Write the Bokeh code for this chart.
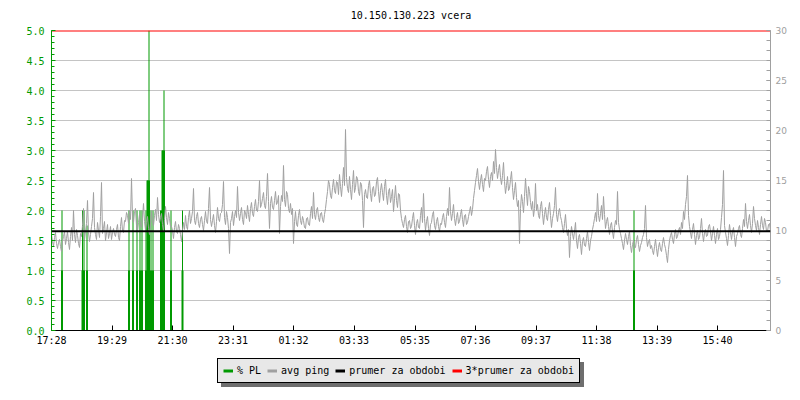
from bokeh.plotting import figure
from bokeh.layouts import column
from bokeh.models import (Range1d, LinearAxis, FixedTicker, Span, Legend, LegendItem,
                          PrintfTickFormatter, ColumnDataSource)
from bokeh.embed import file_html
from bokeh.resources import INLINE

# ---------------- data ----------------
title_text = "10.150.130.223 vcera"

# x tick positions (minutes since 17:28) and labels
x_tick_minutes = [0, 121, 242, 363, 484, 605, 727, 848, 969, 1090, 1211, 1332]
x_tick_labels = ["17:28", "19:29", "21:30", "23:31", "01:32", "03:33",
                 "05:35", "07:36", "09:37", "11:38", "13:39", "15:40"]

# packet loss (%): sample minute, spike top, main bar height
pl_time = [21, 62, 65, 71, 155, 163, 171, 177, 181, 189, 192, 195, 199, 203, 219, 222, 225, 239, 262, 1165]
pl_peak = [2.0, 2.0, 2.0, 1.75, 2.0, 2.0, 2.0, 2.0, 2.0, 2.0, 2.5, 5.0, 2.0, 2.0, 2.0, 3.0, 4.0, 2.0, 2.0, 2.0]
pl_value = [1.0, 1.0, 1.0, 1.0, 1.0, 1.0, 1.0, 1.0, 1.0, 1.0, 2.5, 2.5, 1.0, 1.0, 2.0, 3.0, 3.0, 1.0, 1.0, 1.0]

# average ping (ms), one sample every 2 minutes
ping_step_min = 2
ping_ms = [
    9.6, 8.9, 8.4, 9.3, 9.8, 8.7, 8.2, 8.8, 9.1, 8.4, 7.9, 8.9, 9.4, 9.9, 8.6, 9.2, 9.9, 8.8, 8.1, 9.4, 10.3, 9.0, 12.0, 9.6, 8.8, 10.1, 9.5, 8.7, 8.3, 9.7,
    9.4, 10.5, 12.2, 9.1, 9.9, 10.7, 13.0, 9.8, 8.9, 9.6, 10.4, 11.2, 13.8, 10.3, 9.6, 9.1, 10.8, 10.0, 9.3, 11.4, 14.8, 9.7, 10.2, 10.9, 9.0, 9.8, 10.6, 9.2, 9.7, 10.4,
    9.1, 9.8, 10.2, 9.6, 9.4, 10.1, 10.6, 9.3, 9.0, 10.4, 11.3, 10.0, 9.8, 11.0, 10.9, 11.8, 11.5, 10.7, 12.0, 11.1, 15.2, 11.4, 10.8, 11.9, 12.2, 10.5, 9.9, 10.8, 11.6, 10.6,
    10.3, 11.2, 12.7, 10.9, 10.1, 10.8, 11.4, 10.2, 9.6, 10.7, 11.9, 11.0, 10.5, 11.5, 12.1, 11.0, 13.3, 11.6, 10.8, 11.3, 11.7, 10.6, 9.9, 11.1, 12.4, 11.3, 10.6, 11.8, 11.2, 10.4,
    10.4, 10.0, 9.2, 10.3, 10.9, 9.9, 9.7, 10.6, 10.2, 9.6, 8.9, 10.0, 10.8, 10.1, 11.5, 10.4, 10.1, 11.3, 12.0, 10.7, 11.2, 11.9, 14.2, 11.0, 10.6, 11.4, 11.8, 10.7, 10.3, 11.1,
    11.4, 10.6, 10.0, 11.0, 11.9, 10.9, 10.7, 12.2, 14.3, 11.1, 10.4, 11.0, 11.6, 10.5, 9.8, 10.9, 12.3, 11.2, 10.9, 11.7, 11.8, 12.6, 14.9, 11.3, 10.6, 11.9, 11.3, 10.2, 7.7, 10.8,
    11.2, 11.9, 10.5, 11.4, 12.0, 11.3, 14.4, 11.8, 11.0, 11.7, 12.3, 11.1, 10.6, 12.0, 11.8, 11.2, 12.5, 11.6, 10.9, 12.2, 12.8, 11.7, 11.4, 12.4, 13.1, 12.0, 11.9, 12.9, 15.0, 12.3,
    12.6, 13.2, 13.8, 12.5, 12.2, 13.4, 15.7, 12.9, 10.2, 12.7, 13.4, 12.3, 12.1, 13.0, 13.9, 12.6, 12.8, 13.5, 9.7, 12.4, 13.5, 12.9, 16.5, 13.1, 12.4, 13.9, 13.6, 12.2, 11.8, 12.7,
    11.6, 12.2, 8.7, 10.9, 11.9, 10.6, 10.4, 11.5, 12.1, 11.0, 10.6, 11.4, 11.0, 10.3, 10.2, 11.2, 11.3, 10.6, 10.5, 11.7, 12.4, 11.2, 13.8, 11.6, 11.1, 12.0, 12.3, 11.3, 10.9, 11.7,
    11.8, 11.1, 10.8, 11.6, 12.2, 13.1, 13.9, 15.0, 14.6, 13.5, 13.2, 14.3, 15.1, 14.0, 13.7, 14.9, 14.8, 13.6, 15.6, 14.4, 13.4, 14.7, 16.3, 14.5, 20.1, 15.3, 14.2, 13.8, 15.4, 14.1,
    13.1, 14.6, 16.0, 13.8, 14.3, 15.4, 15.2, 13.9, 13.5, 14.8, 14.6, 13.0, 10.3, 13.6, 14.1, 13.3, 13.2, 14.5, 15.0, 13.7, 12.9, 14.2, 14.4, 13.4, 13.6, 14.9, 15.3, 13.9, 12.8, 14.0,
    14.7, 13.8, 13.0, 14.4, 15.1, 13.5, 12.6, 13.9, 14.2, 12.8, 13.4, 14.1, 11.9, 13.2, 14.5, 13.0, 12.3, 13.7, 13.6, 12.0, 11.2, 10.7, 10.3, 11.1, 11.5, 10.4, 9.8, 10.9, 11.0, 10.2,
    10.4, 11.2, 11.8, 10.5, 9.6, 10.7, 11.1, 10.3, 10.2, 11.5, 12.3, 10.8, 13.7, 11.2, 10.0, 10.9, 11.4, 10.2, 9.5, 10.6, 10.8, 11.6, 11.9, 10.5, 10.1, 10.9, 11.3, 10.4, 9.9, 10.7,
    10.6, 11.3, 11.7, 10.8, 10.3, 11.4, 12.2, 11.5, 14.3, 11.9, 11.0, 11.7, 12.6, 11.2, 10.5, 11.3, 11.8, 10.7, 10.9, 11.6, 12.1, 11.1, 10.4, 11.5, 11.6, 10.6, 10.8, 11.4, 11.9, 12.4,
    11.5, 12.1, 13.2, 14.0, 14.8, 15.5, 16.2, 14.9, 14.1, 15.0, 15.6, 14.6, 13.9, 15.2, 15.0, 15.9, 16.4, 15.1, 14.3, 15.4, 15.8, 15.0, 16.9, 15.7, 18.1, 16.3, 15.2, 16.0, 16.6, 15.3,
    14.6, 15.5, 16.8, 14.9, 13.7, 14.5, 15.4, 14.0, 14.2, 15.1, 15.9, 14.3, 13.1, 14.0, 14.8, 13.3, 12.4, 13.0, 8.7, 12.2, 13.6, 12.9, 11.8, 13.4, 15.2, 13.7, 12.5, 14.4, 13.9, 12.8,
    12.1, 12.9, 11.4, 12.2, 14.7, 12.0, 12.6, 11.5, 11.2, 12.4, 12.9, 11.7, 10.6, 11.6, 12.3, 11.3, 11.0, 12.1, 12.8, 11.5, 10.3, 11.2, 11.7, 12.5, 14.3, 11.6, 10.9, 11.8, 12.2, 11.4,
    11.0, 10.3, 9.8, 10.7, 11.6, 10.2, 9.5, 10.1, 7.3, 9.4, 10.4, 9.7, 9.1, 9.9, 10.8, 9.0, 8.2, 9.3, 9.6, 8.7, 7.6, 8.9, 9.3, 8.5, 8.4, 9.2, 9.9, 8.8, 8.0, 9.0,
    9.4, 10.1, 10.6, 11.2, 11.8, 10.9, 13.7, 11.5, 10.9, 11.7, 12.5, 11.1, 13.4, 11.6, 10.2, 10.9, 11.3, 10.4, 9.6, 10.5, 10.8, 9.9, 9.2, 10.3, 11.0, 10.6, 13.9, 10.8, 10.1, 9.7,
    9.2, 8.7, 8.1, 9.0, 9.7, 9.1, 8.6, 9.4, 9.9, 8.5, 7.8, 8.6, 9.0, 8.2, 8.3, 9.1, 9.5, 8.6, 7.9, 8.5, 8.8, 9.3, 9.6, 10.2, 12.5, 9.3, 8.4, 8.9, 9.1, 8.2,
    8.5, 8.0, 7.6, 8.4, 9.1, 8.2, 7.4, 8.3, 8.8, 8.1, 7.9, 8.7, 9.3, 8.6, 8.2, 7.5, 6.8, 8.1, 9.0, 9.5, 9.8, 9.1, 8.7, 9.6, 10.1, 9.2, 9.4, 10.0, 10.3, 9.6,
    10.8, 10.2, 11.9, 11.1, 12.6, 13.4, 15.5, 11.5, 10.4, 9.8, 9.2, 10.1, 10.7, 9.6, 8.6, 9.5, 10.0, 9.1, 9.3, 10.2, 11.2, 9.7, 8.9, 9.8, 10.1, 9.4, 9.5, 10.4, 10.6, 9.9,
    9.0, 9.7, 10.4, 9.5, 8.7, 9.6, 10.2, 9.1, 9.4, 10.1, 11.3, 12.6, 16.0, 10.5, 9.8, 9.2, 8.5, 9.5, 10.6, 9.8, 9.1, 9.9, 10.3, 9.3, 8.4, 9.4, 9.7, 10.2, 10.5, 9.6,
    9.3, 10.2, 11.1, 10.4, 12.7, 10.9, 10.2, 11.0, 11.6, 10.5, 9.8, 10.7, 12.4, 11.2, 10.5, 10.0, 11.0, 10.3, 9.6, 10.6, 11.4, 10.5, 10.1, 11.2, 10.8, 9.9, 9.9, 10.6, 10.7, 10.0,
]
ping_time = [i * ping_step_min for i in range(len(ping_ms))]

avg_ping = 9.93          # prumer za obdobi
avg_ping_x3 = 30.0       # 3*prumer za obdobi (drawn at the top)

legend_labels = ["% PL", "avg ping", "prumer za obdobi", "3*prumer za obdobi"]

# ---------------- styles ----------------
GREEN = "#009900"
GRAY = "#a0a0a0"
GRID = "#c4c4c4"
RED = "#ff0000"
MONO = "DejaVu Sans Mono"

x_end = 1438

p = figure(width=790, height=348, output_backend="svg", toolbar_location=None,
           x_range=Range1d(0, x_end), y_range=Range1d(0, 5),
           min_border_left=51, min_border_right=20, min_border_top=30, min_border_bottom=18,
           title=title_text)
p.extra_y_ranges = {"ping": Range1d(0, 30)}
p.outline_line_color = None

p.title.align = "center"
p.title.vertical_align = "top"
p.title.text_font = MONO
p.title.text_font_size = "10px"
p.title.text_font_style = "normal"
p.title.text_color = "black"
p.title.standoff = 16

# x axis
xa = p.xaxis[0]
xa.ticker = FixedTicker(ticks=x_tick_minutes)
xa.major_label_overrides = {t: l for t, l in zip(x_tick_minutes, x_tick_labels)}
xa.major_tick_in = 5
xa.major_tick_out = 0
xa.minor_tick_in = 0
xa.minor_tick_out = 0
xa.axis_line_color = "black"
xa.major_tick_line_color = "black"
xa.major_label_text_font = MONO
xa.major_label_text_font_size = "10px"
xa.major_label_text_color = "black"
xa.major_label_standoff = 4

# left axis
ya = p.yaxis[0]
ya.ticker = FixedTicker(ticks=[0, 0.5, 1.0, 1.5, 2.0, 2.5, 3.0, 3.5, 4.0, 4.5, 5.0],
                        minor_ticks=[i / 10 for i in range(51)])
ya.formatter = PrintfTickFormatter(format="%.1f")
ya.axis_line_color = GREEN
ya.major_tick_line_color = GREEN
ya.minor_tick_line_color = GREEN
ya.major_tick_in = 4
ya.major_tick_out = 0
ya.minor_tick_in = 3
ya.minor_tick_out = 0
ya.major_label_text_color = GREEN
ya.major_label_text_font = MONO
ya.major_label_text_font_size = "10px"
ya.major_label_standoff = 7

# right axis
ra = LinearAxis(y_range_name="ping",
                ticker=FixedTicker(ticks=[0, 5, 10, 15, 20, 25, 30],
                                   minor_ticks=list(range(31))))
ra.axis_line_color = GRAY
ra.major_tick_line_color = GRAY
ra.minor_tick_line_color = GRAY
ra.major_tick_in = 4
ra.major_tick_out = 0
ra.minor_tick_in = 4
ra.minor_tick_out = 0
ra.major_label_text_color = GRAY
ra.major_label_text_font = "DejaVu Sans"
ra.major_label_text_font_size = "9px"
ra.major_label_standoff = 5
p.add_layout(ra, "right")

p.xgrid.grid_line_color = None
p.ygrid.grid_line_color = GRID
p.ygrid.grid_line_width = 1

# ---------------- glyphs ----------------
pl_src = ColumnDataSource(dict(t=pl_time, peak=pl_peak, val=pl_value, zero=[0] * len(pl_time)))
p.segment(x0="t", y0="zero", x1="t", y1="peak", source=pl_src, line_color=GREEN, line_width=1)
p.segment(x0="t", y0="zero", x1="t", y1="val", source=pl_src, line_color=GREEN, line_width=2)

p.line(ping_time, ping_ms, y_range_name="ping", line_color=GRAY, line_width=1)

p.add_layout(Span(location=avg_ping, dimension="width", y_range_name="ping",
                  line_color="black", line_width=2))
# 3*average line: width 2 centred on the frame top, the frame clips it to 1 px
p.line([0, x_end], [avg_ping_x3, avg_ping_x3], y_range_name="ping",
       line_color=RED, line_width=2)

# ---------------- legend strip ----------------
lg = figure(width=790, height=42, output_backend="svg", toolbar_location=None,
            x_axis_type=None, y_axis_type=None, min_border=0,
            x_range=Range1d(0, 1), y_range=Range1d(0, 1))
lg.outline_line_color = None
lg.grid.grid_line_color = None

# swatch renderers: their only points lie outside the strip's visible range
sw_colors = [GREEN, GRAY, "black", RED]
sw = [lg.line(x=[5, 6], y=[5, 6], line_color=c, line_width=3) for c in sw_colors]


def make_legend(loc, text_color, bg, border):
    return Legend(items=[LegendItem(label=l, renderers=[r]) for l, r in zip(legend_labels, sw)],
                  location=loc, orientation="horizontal",
                  label_text_font=MONO, label_text_font_size="10px",
                  label_text_color=text_color,
                  background_fill_color=bg, background_fill_alpha=1.0,
                  border_line_color=border, border_line_width=1, border_line_alpha=1.0,
                  padding=5, spacing=6, margin=0, label_standoff=4,
                  glyph_width=10, glyph_height=13, label_height=13)


shadow = make_legend((170, 3), "#6e6e6e", "#6e6e6e", "#6e6e6e")
legend = make_legend((166, 7), "black", "#e8e8e8", "black")
lg.add_layout(shadow, "center")
lg.add_layout(legend, "center")

layout = column(p, lg, spacing=0)
open("out.html", "w").write(file_html(layout, INLINE))
